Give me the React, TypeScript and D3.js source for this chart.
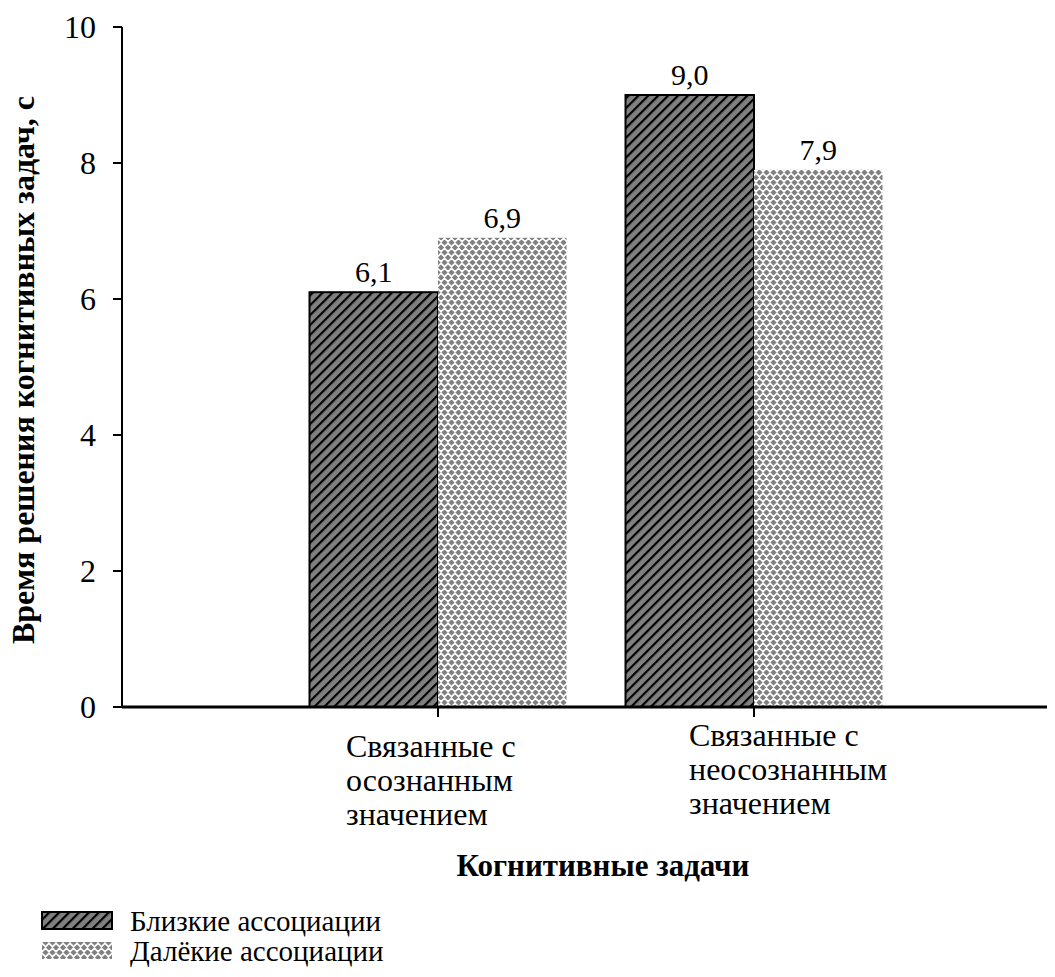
import React from "react";
import * as d3 from "d3";

const categories = ["cat1", "cat2"];
const categoryLines = [
  ["Связанные с", "осознанным", "значением"],
  ["Связанные с", "неосознанным", "значением"],
];
const seriesNames = ["Близкие ассоциации", "Далёкие ассоциации"];
const nearValues = [6.1, 9.0];
const farValues = [6.9, 7.9];
const yTicks = [0, 2, 4, 6, 8, 10];

const W = 1055;
const H = 977;
const FONT = '"Liberation Serif", "Times New Roman", Tinos, "DejaVu Serif", serif';

export default function App() {
  const x0 = 122;
  const yTop = 27;
  const yBot = 707;
  const y = d3.scaleLinear().domain([0, 10]).range([yBot, yTop]);
  const x = d3
    .scaleBand<string>()
    .domain(categories)
    .range([x0, x0 + 316 * 3])
    .paddingInner(0)
    .paddingOuter(0.5);
  const inner = d3.scaleBand<number>().domain([0, 1]).range([-128.5, 128.5]);
  const series = [nearValues, farValues];
  const fills = ["url(#hatch)", "url(#dots)"];
  const labelOffsets = [-92, -65];
  const labelTops = [757, 746];
  const fmt = (v: number) => v.toFixed(1).replace(".", ",");
  const ts = { fontFamily: FONT };

  return (
    <svg width={W} height={H} style={{ display: "block", margin: "-8px", background: "#fff", fontFamily: FONT }}>
      <defs>
        <pattern id="hatch" patternUnits="userSpaceOnUse" width={7} height={7} patternTransform="rotate(45)">
          <rect width={7} height={7} fill="#808080" />
          <rect x={0} y={0} width={2.2} height={7} fill="#000" />
        </pattern>
        <pattern id="dots" patternUnits="userSpaceOnUse" width={7} height={10}>
          <rect width={7} height={10} fill="#fff" />
          <path d="M3.5,-0.6 L6.6,2.5 L3.5,5.6 L0.4,2.5 Z" fill="#808080" />
          <path d="M0,4.4 L3.1,7.5 L0,10.6 L-3.1,7.5 Z" fill="#808080" />
          <path d="M7,4.4 L10.1,7.5 L7,10.6 L3.9,7.5 Z" fill="#808080" />
        </pattern>
      </defs>

      {/* bars */}
      {categories.map((c, ci) =>
        series.map((vals, si) => {
          const cx = (x(c) as number) + x.bandwidth() / 2;
          const bx = cx + (inner(si) as number);
          const v = vals[ci];
          return (
            <g key={`${ci}-${si}`}>
              <rect
                x={bx}
                y={y(v)}
                width={inner.bandwidth()}
                height={y(0) - y(v)}
                fill={fills[si]}
                stroke={si === 0 ? "#000" : "none"}
                strokeWidth={2}
              />
              <text
                x={bx + inner.bandwidth() / 2}
                y={y(v) - 10}
                textAnchor="middle"
                fontSize={30}
                style={ts}
              >
                {fmt(v)}
              </text>
            </g>
          );
        })
      )}

      {/* y axis */}
      <line x1={x0} x2={x0} y1={yTop} y2={yBot} stroke="#000" strokeWidth={2} />
      {yTicks.map((t) => (
        <g key={t}>
          <line x1={x0 - 9} x2={x0} y1={y(t)} y2={y(t)} stroke="#000" strokeWidth={2} />
          <text x={96} y={y(t)} dy="0.35em" textAnchor="end" fontSize={32} style={ts}>
            {t}
          </text>
        </g>
      ))}

      {/* x axis */}
      <line x1={x0} x2={W} y1={yBot} y2={yBot} stroke="#000" strokeWidth={3} />
      {categories.map((c, ci) => {
        const cx = (x(c) as number) + x.bandwidth() / 2;
        return (
          <g key={c}>
            <line x1={cx} x2={cx} y1={yBot} y2={yBot + 10} stroke="#000" strokeWidth={2} />
            <text fontSize={32} style={ts}>
              {categoryLines[ci].map((ln, li) => (
                <tspan key={li} x={cx + labelOffsets[ci]} y={labelTops[ci] + li * 34}>
                  {ln}
                </tspan>
              ))}
            </text>
          </g>
        );
      })}

      {/* axis titles */}
      <text
        transform={`translate(34,370) rotate(-90)`}
        textAnchor="middle"
        fontSize={32}
        fontWeight="bold"
        style={ts}
      >
        Время решения когнитивных задач, с
      </text>
      <text x={603} y={876} textAnchor="middle" fontSize={31} fontWeight="bold" style={ts}>
        Когнитивные задачи
      </text>

      {/* legend */}
      {seriesNames.map((n, i) => (
        <g key={n}>
          <rect
            x={42}
            y={912 + i * 30}
            width={70}
            height={17}
            fill={fills[i]}
            stroke={i === 0 ? "#000" : "none"}
            strokeWidth={2}
          />
          <text x={130} y={921 + i * 30} dy="0.35em" fontSize={29} style={ts}>
            {n}
          </text>
        </g>
      ))}
    </svg>
  );
}
